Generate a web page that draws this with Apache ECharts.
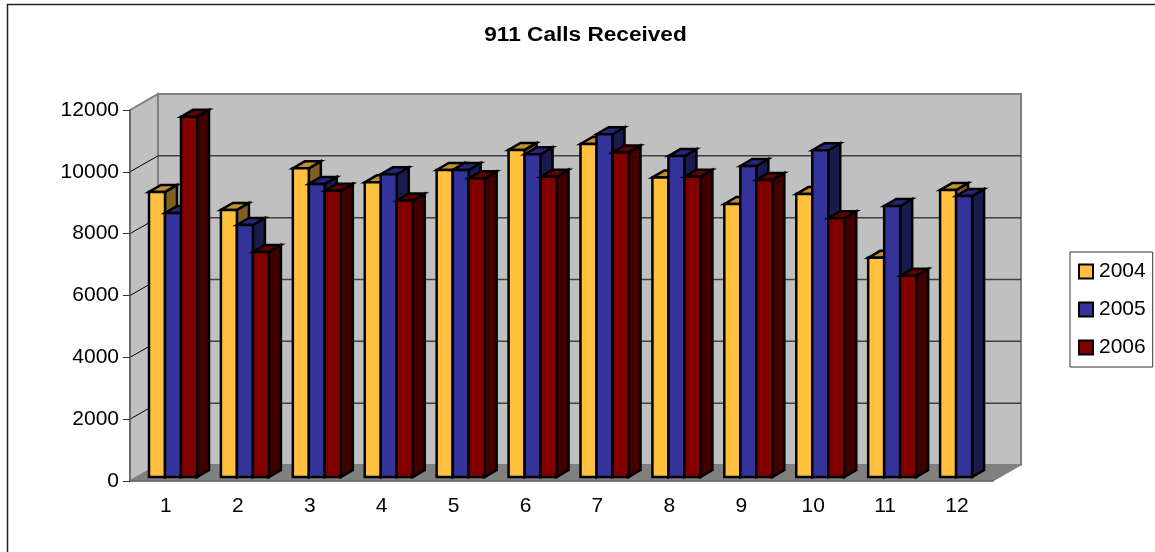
<!DOCTYPE html>
<html>
<head>
<meta charset="utf-8">
<title>911 Calls Received</title>
<style>
  html, body { margin: 0; padding: 0; background: #fff; }
  #chart { width: 1155px; height: 552px; }
</style>
<script src="https://cdn.jsdelivr.net/npm/echarts@6/dist/echarts.min.js"></script>
</head>
<body>
<div id="chart"></div>
<script>
const months = ['1', '2', '3', '4', '5', '6', '7', '8', '9', '10', '11', '12'];
const calls2004 = [9220, 8640, 9985, 9530, 9930, 10580, 10770, 9690, 8830, 9150, 7090, 9280];
const calls2005 = [8540, 8150, 9480, 9790, 9930, 10440, 11085, 10380, 10060, 10570, 8765, 9090];
const calls2006 = [11650, 7280, 9260, 8940, 9660, 9710, 10500, 9710, 9610, 8370, 6510, null];
const yTicks = [0, 2000, 4000, 6000, 8000, 10000, 12000];

const font = '"Liberation Sans", Arial, sans-serif';
const wallDepth = [28, -16];   // front plane to back wall
const barInset = [7, -4];      // front plane to bar front
const barDepth = [12, -7];     // bar front to bar back
const barWidth = 16;
const catGap = 12;

const poly = (points, fill, lineWidth, stroke) => ({
  type: 'polygon',
  shape: { points },
  style: { fill, stroke: stroke || '#000', lineWidth: lineWidth, lineJoin: 'miter' }
});

function renderWalls(params, api) {
  const g = params.coordSys;
  const [dx, dy] = wallDepth;
  const left = g.x, right = g.x + g.width, top = g.y, bottom = g.y + g.height;
  const children = [
    poly([[left + dx, top + dy], [right + dx, top + dy], [right + dx, bottom + dy], [left + dx, bottom + dy]], '#C0C0C0', 2, '#808080'),
    poly([[left, top], [left + dx, top + dy], [left + dx, bottom + dy], [left, bottom]], '#C0C0C0', 2, '#808080'),
    poly([[left, bottom], [left + dx, bottom + dy], [right + dx, bottom + dy], [right, bottom]], '#808080', 1, '#808080')
  ];
  yTicks.slice(1, -1).forEach(t => {
    const y = api.coord([0, t])[1];
    children.push({
      type: 'line',
      shape: { x1: left + dx, y1: y + dy, x2: right + dx, y2: y + dy },
      style: { stroke: '#404040', lineWidth: 1.5 }
    });
  });
  yTicks.slice(1).forEach(t => {
    const y = api.coord([0, t])[1];
    children.push({
      type: 'line',
      shape: { x1: left, y1: y, x2: left + dx, y2: y + dy },
      style: { stroke: t === 12000 ? '#808080' : '#000', lineWidth: 1 }
    });
  });
  return { type: 'group', children };
}

function bar3d(slot, colors) {
  return function (params, api) {
    const v = api.value(1);
    if (isNaN(v)) return;
    const band = api.size([1, 0])[0];
    const cx = api.coord([api.value(0), 0])[0];
    const x0 = cx - band / 2 + catGap + barInset[0] + slot * barWidth;
    const x1 = x0 + barWidth;
    const y0 = api.coord([0, 0])[1] + barInset[1];
    const y1 = api.coord([0, v])[1] + barInset[1];
    const [dx, dy] = barDepth;
    return {
      type: 'group',
      children: [
        poly([[x1, y1], [x1 + dx, y1 + dy], [x1 + dx, y0 + dy], [x1, y0]], colors.side, 2.5),
        poly([[x0, y1], [x0 + dx, y1 + dy], [x1 + dx, y1 + dy], [x1, y1]], colors.top, 2.5),
        poly([[x0, y1], [x1, y1], [x1, y0], [x0, y0]], colors.front, 2.5)
      ]
    };
  };
}

const barSeries = (name, values, slot, colors) => ({
  name,
  type: 'custom',
  z: 2,
  clip: false,
  silent: true,
  itemStyle: { color: colors.front, borderColor: '#000', borderWidth: 2 },
  encode: { x: 0, y: 1 },
  data: values.map((v, i) => [i, v]),
  renderItem: bar3d(slot, colors)
});

const chart = echarts.init(document.getElementById('chart'));
chart.setOption({
  animation: false,
  backgroundColor: '#fff',
  graphic: [{
    type: 'polyline',
    shape: { points: [[7.5, 552], [7.5, 4.5], [1155, 4.5]] },
    style: { fill: 'none', stroke: '#222', lineWidth: 1.5 }
  }, {
    type: 'text',
    x: 585.5,
    y: 36,
    scaleX: 1.16,
    style: {
      text: '911 Calls Received',
      align: 'center',
      verticalAlign: 'middle',
      fontFamily: font,
      fontSize: 19.5,
      fontWeight: 'bold',
      fill: '#000'
    }
  }],
  legend: {
    left: 1070,
    top: 252,
    orient: 'vertical',
    padding: [9, 7, 9, 8],
    itemGap: 17,
    itemWidth: 14,
    itemHeight: 14,
    icon: 'rect',
    selectedMode: false,
    borderColor: '#333',
    borderWidth: 1,
    textStyle: { fontFamily: font, fontSize: 21, color: '#000', padding: [0, 0, 3, 1] },
    data: ['2004', '2005', '2006']
  },
  grid: { left: 130, right: 162, top: 110, bottom: 71 },
  xAxis: {
    type: 'category',
    data: months,
    z: 1,
    axisLine: { lineStyle: { color: '#666', width: 1.5 } },
    axisTick: { length: 8, lineStyle: { color: '#333', width: 1 } },
    axisLabel: { fontFamily: font, fontSize: 21, color: '#000', margin: 15 }
  },
  yAxis: {
    type: 'value',
    min: 0,
    max: 12000,
    interval: 2000,
    z: 1,
    axisLine: { show: true, lineStyle: { color: '#666', width: 1.5 } },
    axisTick: { show: true, length: 7, lineStyle: { color: '#333', width: 1 } },
    axisLabel: { fontFamily: font, fontSize: 21, color: '#000', margin: 11, formatter: v => String(v) },
    splitLine: { show: false }
  },
  series: [
    {
      name: 'walls',
      type: 'custom',
      z: 0,
      clip: false,
      silent: true,
      data: [[0, 0]],
      renderItem: renderWalls
    },
    barSeries('2004', calls2004, 0, { front: '#FFC040', top: '#C09030', side: '#806020' }),
    barSeries('2005', calls2005, 1, { front: '#333399', top: '#26267A', side: '#1A1A4D' }),
    barSeries('2006', calls2006, 2, { front: '#800000', top: '#600000', side: '#400000' })
  ]
});
</script>
</body>
</html>
